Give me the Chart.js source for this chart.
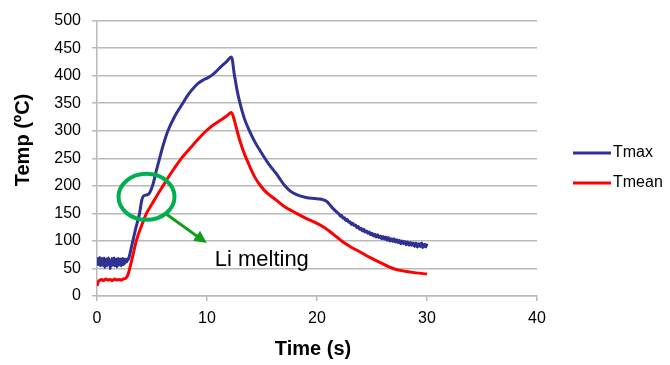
<!DOCTYPE html>
<html>
<head>
<meta charset="utf-8">
<script src="https://cdn.jsdelivr.net/npm/chart.js@4.4.1/dist/chart.umd.min.js"></script>
<style>
  html, body { margin: 0; padding: 0; background: #fff; }
  #wrap { width: 670px; height: 365px; }
</style>
</head>
<body>
<div id="wrap"><canvas id="tempChart" width="670" height="365"></canvas></div>
<script>
const tmaxColor = '#2f3193';
const tmeanColor = '#ff0000';
const gridColor = '#b9b9b9';

const xTicks = [0, 10, 20, 30, 40];
const yTicks = [0, 50, 100, 150, 200, 250, 300, 350, 400, 450, 500];

// Tmax (noisy at start and tail)
const tmaxTime = [
  0.00, 0.05, 0.10, 0.15, 0.20, 0.25, 0.30, 0.35, 0.40, 0.45,
  0.50, 0.55, 0.60, 0.65, 0.70, 0.75, 0.80, 0.85, 0.90, 0.95,
  1.00, 1.05, 1.10, 1.15, 1.20, 1.25, 1.30, 1.35, 1.40, 1.45,
  1.50, 1.55, 1.60, 1.65, 1.70, 1.75, 1.80, 1.85, 1.90, 1.95,
  2.00, 2.05, 2.10, 2.15, 2.20, 2.25, 2.30, 2.35, 2.40, 2.45,
  2.50, 2.55, 2.60, 2.65, 2.70, 2.75, 2.80,
  2.95, 3.1, 3.26, 3.55, 3.87, 4.05, 4.17, 4.4, 4.6, 4.78, 4.95, 5.08, 5.4,
  5.69, 6.05, 6.45, 7.06, 7.8, 8.2, 8.58, 8.88, 9.25, 9.64, 10.05, 10.46,
  10.85, 11.3, 11.8, 12.22, 12.5, 12.75, 13.0, 13.4, 13.9, 14.4, 14.95, 15.6, 16.3,
  17.08, 17.6, 18.14, 19.0, 19.8, 20.26, 20.87, 21.4, 21.93,
  22.0, 22.125, 22.25, 22.375, 22.5, 22.625, 22.75, 22.875,
  23.0, 23.125, 23.25, 23.375, 23.5, 23.625, 23.75, 23.875,
  24.0, 24.125, 24.25, 24.375, 24.5, 24.625, 24.75, 24.875,
  25.0, 25.125, 25.25, 25.375, 25.5, 25.625, 25.75, 25.875,
  26.0, 26.125, 26.25, 26.375, 26.5, 26.625, 26.75, 26.875,
  27.0, 27.125, 27.25, 27.375, 27.5, 27.625, 27.75, 27.875,
  28.0, 28.125, 28.25, 28.375, 28.5, 28.625, 28.75, 28.875,
  29.0, 29.125, 29.25, 29.375, 29.5, 29.625, 29.75, 29.875, 30.0
];
const tmaxTemp = [
  62, 68, 57, 66, 60, 70, 55, 64, 59, 68,
  56, 66, 61, 69, 52, 63, 58, 67, 55, 65,
  60, 69, 57, 64, 50, 62, 58, 68, 56, 66,
  60, 69, 55, 64, 59, 67, 53, 65, 61, 68,
  56, 64, 58, 67, 55, 66, 60, 68, 57, 64,
  59, 67, 61, 66, 62, 67, 65,
  73, 86, 100, 125, 150, 172, 180, 183, 184, 187, 195, 202, 228,
  250, 276, 300, 326, 350, 363, 373, 380, 387, 392, 396, 401,
  408, 417, 426, 434, 400, 372, 350, 322, 298, 278, 260, 240, 222,
  200, 190, 184, 179, 177, 176, 172, 160, 150,
  149, 145, 146, 141, 142, 137, 139, 134,
  135, 130, 132, 128, 129, 124, 126, 121,
  123, 118, 121, 116, 118, 114, 116, 111,
  114, 109, 112, 107, 111, 106, 109, 104,
  108, 103, 107, 101, 106, 100, 104, 99,
  104, 98, 102, 97, 101, 95, 100, 95,
  99, 93, 98, 92, 97, 92, 96, 90,
  96, 89, 95, 90, 96, 88, 94, 89, 95
];

// Tmean
const tmeanTime = [
  0.0, 0.1, 0.2, 0.4, 0.6, 0.8, 1.0, 1.2, 1.4, 1.6, 1.8, 2.0, 2.2, 2.4,
  2.6, 2.8, 3.0, 3.3, 3.57, 4.0, 4.5, 5.0, 5.5, 6.0, 6.5, 7.0, 7.67, 8.5,
  9.2, 9.94, 10.6, 11.3, 11.8, 12.22, 12.5, 12.8, 13.1, 13.4, 13.7, 14.0,
  14.4, 14.8, 15.3, 16.3, 17.0, 18.14, 19.0, 20.0, 20.7, 21.5, 22.24, 23.0,
  24.0, 24.8, 25.8, 26.9, 28.0, 29.0, 30.0
];
const tmeanTemp = [
  18, 25, 28, 30, 28, 31, 29, 30, 28, 31, 29, 30, 29, 31,
  32, 38, 52, 77, 100, 125, 150, 167, 184, 200, 216, 231, 250, 269,
  285, 300, 311, 320, 327, 333, 318, 295, 275, 258, 244, 230,
  214, 202, 190, 174, 163, 150, 141, 132, 124, 112, 100, 90,
  79, 70, 60, 50, 45, 42, 40
];

const legendItems = ['Tmax', 'Tmean'];

// annotation anchors in data units
const ringCenter = [4.5, 180];
const arrowFrom = [6.35, 148];
const arrowTo = [9.98, 96];
const noteAt = [10.7, 55];
const noteText = 'Li melting';

function toPoints(xs, ys) {
  return xs.map((x, i) => ({ x, y: ys[i] }));
}

const overlayPlugin = {
  id: 'overlay',
  afterDatasetsDraw(chart) {
    const ctx = chart.ctx;
    const xs = chart.scales.x;
    const ys = chart.scales.y;
    const px = (p) => [xs.getPixelForValue(p[0]), ys.getPixelForValue(p[1])];

    ctx.save();
    // green ring
    const c = px(ringCenter);
    ctx.strokeStyle = '#00b050';
    ctx.lineWidth = 4;
    ctx.beginPath();
    ctx.ellipse(c[0], c[1], 28, 23, 0, 0, Math.PI * 2);
    ctx.stroke();

    // arrow
    const a = px(arrowFrom);
    const b = px(arrowTo);
    const ang = Math.atan2(b[1] - a[1], b[0] - a[0]);
    const head = 14;
    ctx.strokeStyle = '#119c1b';
    ctx.fillStyle = '#119c1b';
    ctx.lineWidth = 3;
    ctx.beginPath();
    ctx.moveTo(a[0], a[1]);
    ctx.lineTo(b[0] - Math.cos(ang) * head * 0.8, b[1] - Math.sin(ang) * head * 0.8);
    ctx.stroke();
    ctx.beginPath();
    ctx.moveTo(b[0], b[1]);
    ctx.lineTo(b[0] - head * Math.cos(ang - 0.45), b[1] - head * Math.sin(ang - 0.45));
    ctx.lineTo(b[0] - head * Math.cos(ang + 0.45), b[1] - head * Math.sin(ang + 0.45));
    ctx.closePath();
    ctx.fill();

    // note
    const n = px(noteAt);
    ctx.fillStyle = '#000';
    ctx.font = '22px "Liberation Sans", Arial, sans-serif';
    ctx.textAlign = 'left';
    ctx.textBaseline = 'alphabetic';
    ctx.fillText(noteText, n[0], n[1]);
    ctx.restore();
  },
  afterDraw(chart) {
    const ctx = chart.ctx;
    ctx.save();
    // axis titles
    ctx.fillStyle = '#000';
    ctx.font = 'bold 20px "Liberation Sans", Arial, sans-serif';
    ctx.textAlign = 'center';
    ctx.textBaseline = 'alphabetic';
    ctx.fillText('Time (s)', 313, 355);
    ctx.translate(29, 140);
    ctx.rotate(-Math.PI / 2);
    ctx.fillText('Temp (ºC)', 0, 0);
    ctx.restore();

    // legend
    ctx.save();
    ctx.font = '16px "Liberation Sans", Arial, sans-serif';
    ctx.textBaseline = 'middle';
    ctx.textAlign = 'left';
    chart.data.datasets.forEach((ds, i) => {
      const y = 153 + i * 30;
      ctx.strokeStyle = ds.borderColor;
      ctx.lineWidth = 3;
      ctx.beginPath();
      ctx.moveTo(573, y);
      ctx.lineTo(611, y);
      ctx.stroke();
      ctx.fillStyle = '#000';
      ctx.fillText(legendItems[i], 613, y);
    });
    ctx.restore();
  }
};

new Chart(document.getElementById('tempChart'), {
  type: 'line',
  data: {
    datasets: [
      {
        label: legendItems[0],
        data: toPoints(tmaxTime, tmaxTemp),
        borderColor: tmaxColor,
        borderWidth: 3,
        pointRadius: 0,
        fill: false,
        cubicInterpolationMode: 'monotone'
      },
      {
        label: legendItems[1],
        data: toPoints(tmeanTime, tmeanTemp),
        borderColor: tmeanColor,
        borderWidth: 3,
        pointRadius: 0,
        fill: false,
        cubicInterpolationMode: 'monotone'
      }
    ]
  },
  options: {
    responsive: false,
    animation: false,
    layout: { padding: { left: 0, right: 133, top: 16, bottom: 0 } },
    plugins: { legend: { display: false }, tooltip: { enabled: false } },
    scales: {
      x: {
        type: 'linear',
        min: 0,
        max: 40,
        afterFit(scale) { scale.height = 69; },
        afterBuildTicks(scale) { scale.ticks = xTicks.map(v => ({ value: v })); },
        ticks: {
          color: '#000',
          padding: 8,
          font: { family: '"Liberation Sans", Arial, sans-serif', size: 16 }
        },
        grid: { drawOnChartArea: false, drawTicks: true, tickLength: 5, color: gridColor, lineWidth: 1.5 },
        border: { display: true, color: gridColor, width: 1.5 }
      },
      y: {
        min: 0,
        max: 500,
        afterFit(scale) { scale.width = 97; },
        afterBuildTicks(scale) { scale.ticks = yTicks.map(v => ({ value: v })); },
        ticks: {
          color: '#000',
          padding: 11,
          font: { family: '"Liberation Sans", Arial, sans-serif', size: 16 }
        },
        grid: { color: gridColor, lineWidth: 1.5, tickLength: 5 },
        border: { display: true, color: gridColor, width: 1.5 }
      }
    }
  },
  plugins: [overlayPlugin]
});
</script>
</body>
</html>
